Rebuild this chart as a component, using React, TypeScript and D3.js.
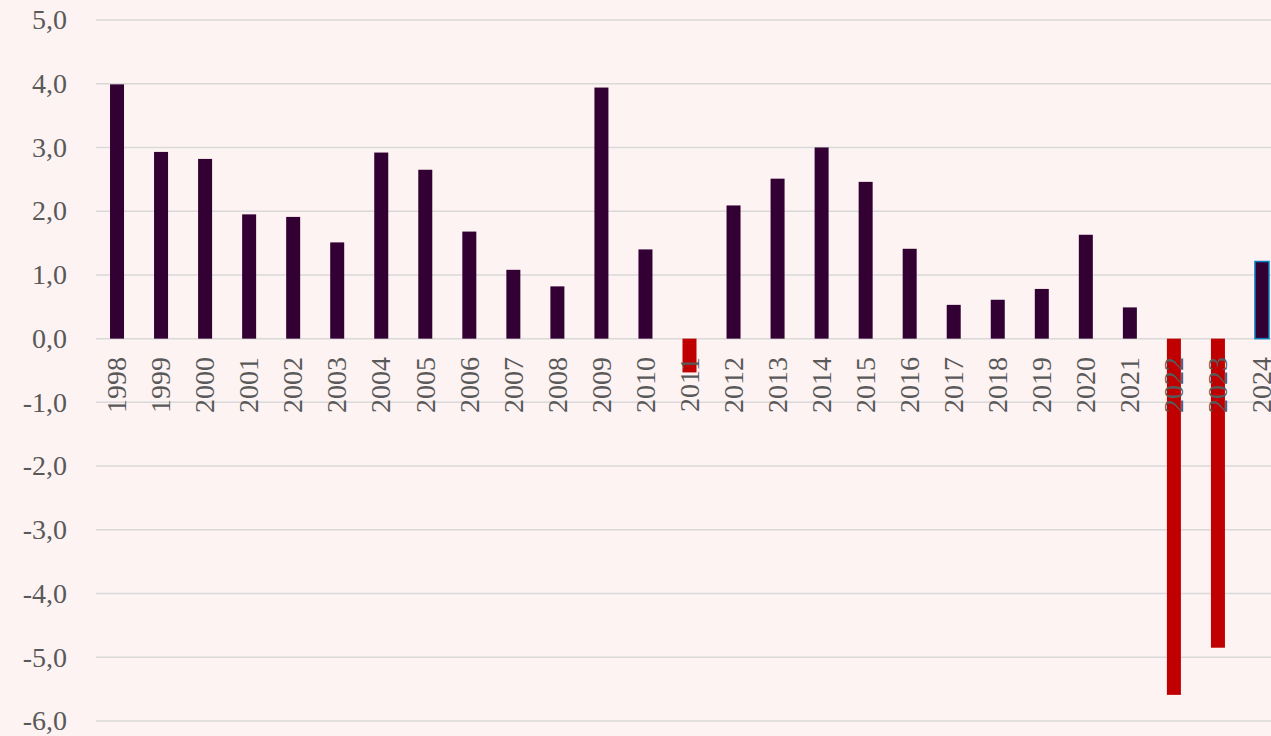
import React from "react";
import * as d3 from "d3";

const years = ["1998","1999","2000","2001","2002","2003","2004","2005","2006","2007","2008","2009","2010","2011","2012","2013","2014","2015","2016","2017","2018","2019","2020","2021","2022","2023","2024"];
const values = [3.99,2.93,2.82,1.95,1.91,1.51,2.92,2.65,1.68,1.08,0.82,3.94,1.40,-0.53,2.09,2.51,3.0,2.46,1.41,0.53,0.61,0.78,1.63,0.49,-5.59,-4.85,1.21];
const yTicks = [5,4,3,2,1,0,-1,-2,-3,-4,-5,-6];

const W = 1271, H = 736;
const FONT = "'Liberation Serif', 'Times New Roman', serif";

export default function App() {
  const x = d3.scaleBand<string>().domain(years).range([95, 1284]).paddingInner(0.69).paddingOuter(0.345);
  const y = d3.scaleLinear().domain([-6, 5]).range([721, 20]);
  const fmt = (v: number) => v.toFixed(1).replace(".", ",");
  const bw = 14;
  return (
    <svg width={W} height={H} style={{ position: "absolute", left: 0, top: 0, background: "#fdf3f3" }}>
      <rect x={0} y={0} width={W} height={H} fill="#fdf3f3" />
      {yTicks.map(t => (
        <g key={t}>
          <line x1={96} x2={W} y1={y(t)} y2={y(t)} stroke="#d9d9d9" strokeWidth={1.5} />
          <text x={67} y={y(t)} dy="0.33em" textAnchor="end" fontFamily={FONT} fontSize={28} fill="#595959">{fmt(t)}</text>
        </g>
      ))}
      {years.map((yr, i) => {
        const v = values[i];
        const cx = (x(yr) as number) + x.bandwidth() / 2;
        const top = y(Math.max(0, v));
        const h = Math.abs(y(v) - y(0));
        const neg = v < 0;
        const last = yr === "2024";
        return (
          <rect key={yr} x={cx - bw / 2} y={top} width={bw} height={h}
            fill={neg ? "#c00000" : "#330033"}
            stroke={last ? "#0a7cc2" : "none"} strokeWidth={last ? 1.5 : 0} />
        );
      })}
      {years.map(yr => {
        const cx = (x(yr) as number) + x.bandwidth() / 2;
        return (
          <text key={yr} transform={`translate(${cx},${357}) rotate(-90)`} dy="0.33em" textAnchor="end"
            fontFamily={FONT} fontSize={28} fill="#595959">{yr}</text>
        );
      })}
    </svg>
  );
}
